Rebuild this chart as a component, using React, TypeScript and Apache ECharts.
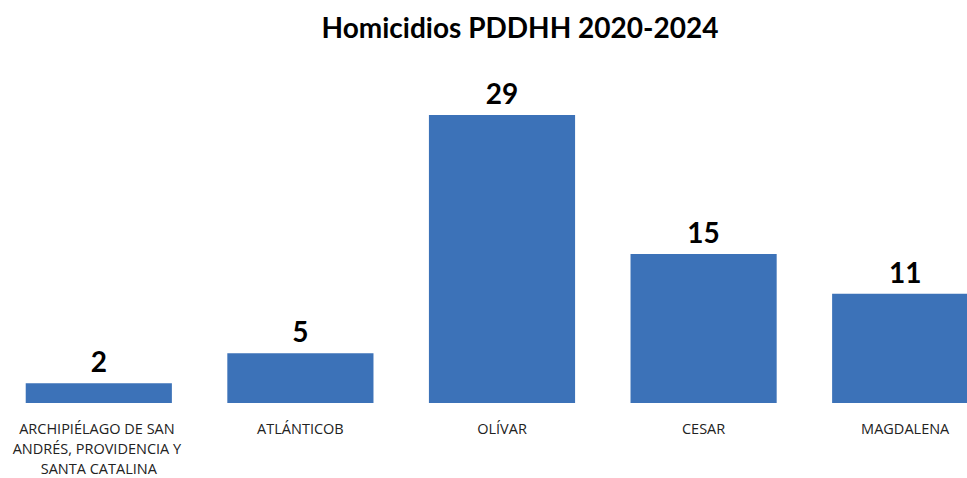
import React, { useEffect, useRef } from "react";
import * as echarts from "echarts";

const categories = [
  "ARCHIPIÉLAGO DE SAN ANDRÉS, PROVIDENCIA Y SANTA CATALINA",
  "ATLÁNTICOB",
  "OLÍVAR",
  "CESAR",
  "MAGDALENA",
];
const values = [2, 5, 29, 15, 11];
const titleText = "Homicidios PDDHH 2020-2024";

export default function App() {
  const ref = useRef<HTMLDivElement>(null);
  useEffect(() => {
    if (!ref.current) return;
    const chart = echarts.init(ref.current, null, { renderer: "svg" });
    chart.setOption({
      animation: false,
      backgroundColor: "#ffffff",
      title: {
        text: titleText,
        left: 515,
        top: 8,
        textAlign: "center",
        textStyle: {
          fontFamily: "Lato",
          fontWeight: "bold",
          fontSize: 28,
          color: "#000000",
        },
      },
      grid: {
        left: -2,
        width: 1008,
        top: 105,
        height: 298,
        containLabel: false,
        outerBoundsMode: "none",
      },
      xAxis: {
        type: "category",
        data: categories,
        axisLine: { show: false },
        axisTick: { show: false },
        axisLabel: {
          interval: 0,
          margin: 15,
          fontFamily: "Open Sans",
          fontSize: 14.5,
          lineHeight: 20,
          color: "#222222",
          width: 190,
          overflow: "break",
        },
      },
      yAxis: {
        type: "value",
        min: 0,
        max: 30,
        show: false,
        splitLine: { show: false },
      },
      series: [
        {
          type: "bar",
          data: values,
          barWidth: "72.5%",
          itemStyle: { color: "#3C72B8" },
          label: {
            show: true,
            position: "top",
            distance: 8,
            fontFamily: "Lato",
            fontWeight: "bold",
            fontSize: 28,
            color: "#000000",
          },
        },
      ],
    });
    return () => chart.dispose();
  }, []);
  return (
    <div
      ref={ref}
      style={{ position: "fixed", left: 0, top: 0, width: 967, height: 478 }}
    />
  );
}
